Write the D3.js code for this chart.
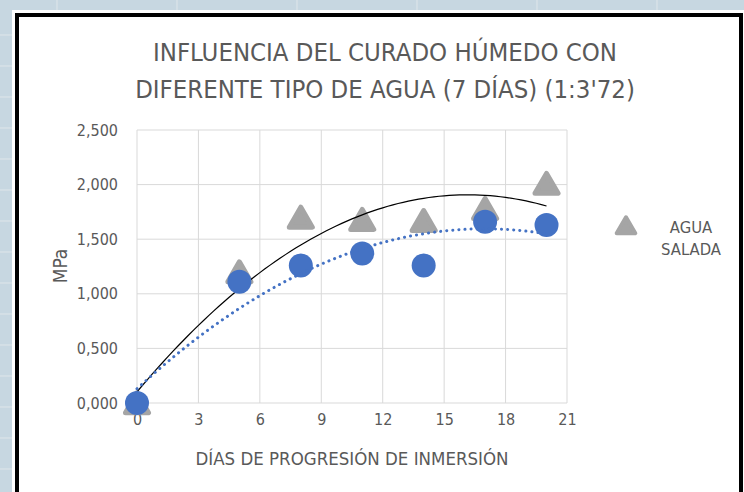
<!DOCTYPE html>
<html lang="es">
<head>
<meta charset="UTF-8">
<title>Influencia del curado húmedo</title>
<script src="https://d3js.org/d3.v7.min.js"></script>
<style>
  body { margin: 0; background: #c7d7e1; }
  text { font-family: "Liberation Sans Narrow", "DejaVu Sans Condensed", "Liberation Sans", sans-serif; fill: #595959; }
</style>
</head>
<body>
<div id="chart"></div>
<script>
// datos
var dias = [0, 5, 8, 11, 14, 17, 20];
var aguaSalada = [-0.02, 1.18, 1.68, 1.66, 1.65, 1.76, 1.99];
var aguaPotable = [0.0, 1.11, 1.26, 1.37, 1.26, 1.66, 1.63];
var xTicks = [0, 3, 6, 9, 12, 15, 18, 21];
var yTicks = [0, 0.5, 1.0, 1.5, 2.0, 2.5];
var tituloLineas = ["INFLUENCIA DEL CURADO HÚMEDO CON", "DIFERENTE TIPO DE AGUA (7 DÍAS) (1:3'72)"];
var leyenda = ["AGUA", "SALADA"];

var W = 744, H = 492;
var svg = d3.select("#chart").append("svg")
    .attr("width", W).attr("height", H);

// fondo de hoja de calculo
svg.append("rect").attr("width", W).attr("height", H).attr("fill", "#c7d7e1");
svg.selectAll(".vg").data(d3.range(57, W, 120)).enter().append("line")
    .attr("x1", d => d).attr("x2", d => d).attr("y1", 0).attr("y2", 12)
    .attr("stroke", "#dfe6ea");
svg.selectAll(".hg").data(d3.range(35, H, 31)).enter().append("line")
    .attr("x1", 0).attr("x2", 12).attr("y1", d => d).attr("y2", d => d)
    .attr("stroke", "#dfe6ea");

// area del grafico
svg.append("rect").attr("x", 12).attr("y", 10).attr("width", W).attr("height", H)
    .attr("fill", "#ffffff");
svg.append("rect").attr("x", 17).attr("y", 15).attr("width", 724).attr("height", H + 20)
    .attr("fill", "#ffffff").attr("stroke", "#000").attr("stroke-width", 4);

var x = d3.scaleLinear().domain([0, 21]).range([137, 567]);
var y = d3.scaleLinear().domain([0, 2.5]).range([403, 130]);

var g = svg.append("g");

// rejilla
g.selectAll(".gx").data(xTicks).enter().append("line")
    .attr("x1", d => x(d)).attr("x2", d => x(d))
    .attr("y1", y(2.5)).attr("y2", y(0))
    .attr("stroke", "#d9d9d9").attr("stroke-width", 1);
g.selectAll(".gy").data(yTicks).enter().append("line")
    .attr("x1", x(0)).attr("x2", x(21))
    .attr("y1", d => y(d)).attr("y2", d => y(d))
    .attr("stroke", "#d9d9d9").attr("stroke-width", 1);

// etiquetas de ejes
var fmt = function (d) { return d3.format(".3f")(d).replace(".", ","); };
var yAxis = g.append("g").attr("transform", "translate(" + x(0) + ",0)")
    .call(d3.axisLeft(y).tickValues(yTicks).tickFormat(fmt).tickSize(0).tickPadding(19));
var xAxis = g.append("g").attr("transform", "translate(0," + y(0) + ")")
    .call(d3.axisBottom(x).tickValues(xTicks).tickSize(0).tickPadding(11));
[yAxis, xAxis].forEach(function (a) {
    a.select(".domain").remove();
    a.selectAll("text").style("font-size", "16px").attr("fill", "#595959")
        .style("font-family", '"Liberation Sans Narrow", "DejaVu Sans Condensed", sans-serif');
});

// linea de tendencia polinomica (orden 2) por minimos cuadrados
function ajuste(xs, ys) {
    var s = [0, 0, 0, 0, 0], t = [0, 0, 0];
    xs.forEach(function (xi, i) {
        for (var k = 0; k < 5; k++) s[k] += Math.pow(xi, k);
        for (var k = 0; k < 3; k++) t[k] += ys[i] * Math.pow(xi, k);
    });
    var M = [[s[0], s[1], s[2], t[0]], [s[1], s[2], s[3], t[1]], [s[2], s[3], s[4], t[2]]];
    for (var i = 0; i < 3; i++) {
        for (var j = i + 1; j < 3; j++) {
            var f = M[j][i] / M[i][i];
            for (var k = i; k < 4; k++) M[j][k] -= f * M[i][k];
        }
    }
    var c = [0, 0, 0];
    for (var i = 2; i >= 0; i--) {
        var v = M[i][3];
        for (var k = i + 1; k < 3; k++) v -= M[i][k] * c[k];
        c[i] = v / M[i][i];
    }
    return function (xv) { return c[0] + c[1] * xv + c[2] * xv * xv; };
}
var fSal = ajuste(dias, aguaSalada);
var fPot = ajuste(dias, aguaPotable);
var xs = d3.range(0, 20.01, 0.25);
var line = d3.line().x(d => x(d[0])).y(d => y(d[1])).curve(d3.curveLinear);

// triangulos
var tri = d3.symbol().type(d3.symbolTriangle).size(230);
g.selectAll(".tri").data(dias).enter().append("path")
    .attr("d", tri)
    .attr("transform", (d, i) => "translate(" + x(d) + "," + (y(aguaSalada[i]) + 1) + ")")
    .attr("fill", "#a5a5a5").attr("stroke", "#a5a5a5")
    .attr("stroke-width", 5).attr("stroke-linejoin", "round");

g.append("path").datum(xs.map(v => [v, fSal(v)]))
    .attr("fill", "none").attr("stroke", "#000").attr("stroke-width", 1.2)
    .attr("d", line);

// circulos
g.selectAll(".dot").data(dias).enter().append("circle")
    .attr("cx", d => x(d)).attr("cy", (d, i) => y(aguaPotable[i]))
    .attr("r", 12).attr("fill", "#4472c4");

g.append("path").datum(xs.map(v => [v, fPot(v)]))
    .attr("fill", "none").attr("stroke", "#4472c4").attr("stroke-width", 3)
    .attr("stroke-dasharray", "0.1 6").attr("stroke-linecap", "round")
    .attr("d", line);

// titulos
svg.selectAll(".tit").data(tituloLineas).enter().append("text")
    .attr("x", 385).attr("y", (d, i) => 61 + i * 37)
    .attr("text-anchor", "middle").style("font-size", "25.5px")
    .text(d => d);

svg.append("text").attr("x", 352).attr("y", 465)
    .attr("text-anchor", "middle").style("font-size", "18.5px")
    .text("DÍAS DE PROGRESIÓN DE INMERSIÓN");

svg.append("text").attr("transform", "translate(67,266) rotate(-90)")
    .attr("text-anchor", "middle").style("font-size", "19px")
    .text("MPa");

// leyenda
svg.append("path").attr("d", d3.symbol().type(d3.symbolTriangle).size(150))
    .attr("transform", "translate(626,228)")
    .attr("fill", "#a5a5a5").attr("stroke", "#a5a5a5")
    .attr("stroke-width", 4).attr("stroke-linejoin", "round");
svg.selectAll(".ley").data(leyenda).enter().append("text")
    .attr("x", 691).attr("y", (d, i) => 233 + i * 22)
    .attr("text-anchor", "middle").style("font-size", "16.5px")
    .text(d => d);
</script>
</body>
</html>
